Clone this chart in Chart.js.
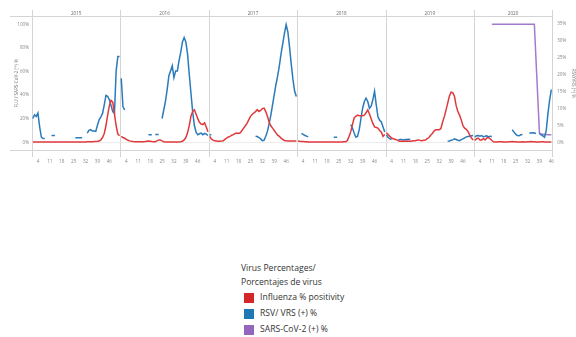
<!DOCTYPE html>
<html>
<head>
<meta charset="utf-8">
<script src="https://cdn.jsdelivr.net/npm/chart.js@4.4.1/dist/chart.umd.min.js"></script>
<style>
  body { margin: 0; background: #fff; font-family: "Open Sans", sans-serif; }
  #wrap { position: absolute; left: 0; top: 0; width: 576px; height: 165px; }
  #legend { position: absolute; left: 241px; top: 262px; font-size: 8.6px; color: #333; line-height: 13.5px; }
  #legend .row { display: flex; align-items: center; height: 16px; }
  #legend .sw { width: 10px; height: 10px; margin: 0 6px 0 3px; }
</style>
</head>
<body>
<div id="wrap"><canvas id="chart" width="576" height="165"></canvas></div>
<div id="legend"></div>
<script>
const years = ['2015', '2016', '2017', '2018', '2019', '2020'];
const weekTicks = [4, 11, 18, 25, 32, 39, 46];

// Influenza % positivity, weekly
const flu2015 = [0.3,0.3,0.3,0.3,0.3,0.3,0.3,0.3,0.3,0.3, 0.3,0.3,0.3,0.3,0.3,0.3,0.3,0.3,0.3,0.3,
  0.3,0.3,0.3,0.3,0.3,0.3,0.3,0.3,0.3,0.3, 0.3,0.3,0.4,0.4,0.5,0.5,0.6,0.7,0.8,1.0,
  2.0,4.0,7.5,14,23,31,35.5,34,24,14, 7,5.5];
const flu2016 = [5,4,3.4,2.5,1.7,1.2,0.8,0.6,0.5,0.5, 0.4,0.4,0.4,0.5,0.6,0.8,1.0,0.9,0.6,0.4,
  0.5,1.2,2.0,2.0,1.2,0.5,0.3,0.3,0.3,0.3, 0.3,0.3,0.3,0.3,0.3,0.4,0.8,2.0,4.0,8.0,
  14,22,26,27.5,24,20,17,15.5,15,16.5, 13,9];
const flu2017 = [5,2.8,1.8,1.2,1.0,0.8,0.8,1.0,1.3,2.5, 3.6,4.5,5.0,6.0,6.5,7.5,7.8,7.5,8.0,10,
  12,14,16,19,22,23.5,24.8,26,27.6,26, 27,28.5,29,26,22,17,14,12,10,8,
  6,5,3.5,2.5,1.5,1.2,1.0,1.0,1.0,1.0, 1.0,1.0];
const flu2018 = [1.0,0.8,0.7,0.6,0.5,0.4,0.3,0.3,0.3,0.3, 0.3,0.3,0.3,0.3,0.3,0.3,0.3,0.3,0.3,0.3,
  0.3,0.3,0.3,0.3,0.3,0.3,0.3,0.4,0.5,1.5, 5,9,15,20.6,22,23,22.5,22.5,22.5,23,
  25,27.5,24,20,16,13,12.5,12,10,8.5, 5,6.5];
const flu2019 = [8,6.5,5,3.6,3,2.5,2,1.3,0.8,0.8, 0.8,0.8,1.0,0.8,0.8,1.0,1.2,1.3,1.8,2.0,
  1.5,1.3,1.8,2.0,3.0,4.0,6.0,7.5,9.5,10.7, 10.7,10.7,11.5,17,21.5,27,33,39,42.5,42,
  39,31,26,23,19,14,12,11,9,6, 3.6,1.8];
const flu2020 = [1.5,3,3.6,2,2,3,2,3.6,4,3, 1.5,0.4,0.3,0.3,0.4,0.5,0.4,0.3,0.3,0.3,
  0.4,0.5,0.6,0.5,0.4,0.3,0.3,0.3,0.4,0.3, 0.3,0.4,0.5,0.6,0.5,0.4,0.3,0.3,0.3,0.4,
  0.4,0.3,0.3,0.3,0.2,0.2];

// RSV / VRS (+) %, weekly (right axis)
const rsv2015 = [7,8.1,7.6,8.6,4.5,1.5,1.1,1.1,null,null, null,2,2,2,null,null,null,null,null,null,
  null,null,null,null,null,1.3,1.3,1.3,1.3,1.3, null,null,2.7,3.5,3.7,3.3,3.3,3.2,5,6.6,
  7.5,8.5,11,13.8,13.5,12.5,10.8,9,8.5,21, 25.2,25.2];
const rsv2016 = [18.8,10.5,9.5,null,null,null,null,null,null,null, null,null,null,null,null,null,2.2,2.2,2.2,null,
  2.3,2.3,2.3,null,7,9.5,12,15.5,19.5,21, 22.5,19,21,21,24,26.5,29.5,30.8,29.5,26,
  20,14.5,9,5,3,2.2,2.5,2.7,2.2,2.6, 2.4,2.0];
const rsv2017 = [2.3,2.1,null,null,null,null,null,null,null,null, null,null,null,null,null,null,null,null,null,null,
  null,null,null,null,null,null,null,1.8,1.7,1.4, 1.0,0.5,0.6,1.8,3.2,5.5,8,11,14,17,
  19.5,22.5,26,29,32,34.6,32.5,28,23,18.5, 15,13.5];
const rsv2018 = [7.1,null,2.6,2.3,2.0,1.8,1.6,null,null,null, null,null,null,null,null,null,null,null,null,null,
  null,1.5,1.5,1.5,null,null,null,null,null,null, null,5.2,4.2,2.7,1.5,1.8,3.7,7,10.1,12,
  13,12,10,10.6,12.5,15,11,7.5,6.5,6, 4.5,3];
const rsv2019 = [2.2,1.4,1.0,0.8,null,null,null,0.7,0.8,0.8, 0.7,0.8,0.8,0.9,0.8,null,null,null,null,null,
  null,null,null,null,null,null,null,null,null,null, null,null,null,null,null,null,0.3,0.4,0.6,0.7,
  1.0,0.8,0.6,0.5,0.8,1.0,1.3,1.6,1.7,1.8, 1.9,2.0];
const rsv2020 = [1.6,1.9,2.0,1.8,2.0,1.6,1.8,1.9,1.6,1.8, 1.7,null,null,null,null,null,null,null,null,null,
  null,null,3.7,3.0,2.4,2.0,1.9,2.2,2.3,null, null,null,2.7,2.7,2.8,2.7,2.6,null,2.6,2.2,
  1.9,1.5,3.5,8.5,12.5,15.5];

// SARS-CoV-2 (+) %, weekly 2020 only
const sars2020 = [null,null,null,null,null,null,null,null,null,null,
  100,100,100,100,100,100,100,100,100,100, 100,100,100,100,100,100,100,100,100,100,
  100,100,100,100,100,100, null,null, 7.8,7.0,6.8,6.6,6.5,6.4,6.3,6.3];

const fluByYear = [flu2015, flu2016, flu2017, flu2018, flu2019, flu2020];
const rsvByYear = [rsv2015, rsv2016, rsv2017, rsv2018, rsv2019, rsv2020];

const offsets = [];
let total = 0;
fluByYear.forEach(a => { offsets.push(total); total += a.length; });

function toPoints(arr, yearIdx, pts) {
  arr.forEach((v, k) => pts.push({x: offsets[yearIdx] + k + 0.5, y: v}));
  pts.push({x: offsets[yearIdx] + arr.length, y: null}); // panes are not joined
  return pts;
}

let fluPts = [], rsvPts = [];
fluByYear.forEach((a, i) => toPoints(a, i, fluPts));
rsvByYear.forEach((a, i) => toPoints(a, i, rsvPts));
let sarsPts = toPoints(sars2020, 5, []);

const tickValues = [];
years.forEach((y, i) => weekTicks.forEach(w => {
  if (w <= fluByYear[i].length) tickValues.push(offsets[i] + w - 0.5);
}));

const panelPlugin = {
  id: 'panels',
  beforeDatasetsDraw(chart) {
    const ctx = chart.ctx, x = chart.scales.x, y = chart.scales.y, a = chart.chartArea;
    ctx.save();
    ctx.strokeStyle = '#d4d4d4';
    ctx.lineWidth = 1;
    // year dividers and outer edges
    offsets.concat([total]).forEach(o => {
      const px = Math.round(x.getPixelForValue(o)) + 0.5;
      ctx.beginPath(); ctx.moveTo(px, 10); ctx.lineTo(px, 157); ctx.stroke();
    });
    // header separator and bottom line
    [16.5, Math.round(a.bottom) + 0.5].forEach(py => {
      ctx.beginPath(); ctx.moveTo(10, py); ctx.lineTo(a.right, py); ctx.stroke();
    });
    // zero line
    ctx.strokeStyle = '#ececec';
    const zy = Math.round(y.getPixelForValue(0)) + 0.5;
    ctx.beginPath(); ctx.moveTo(a.left, zy); ctx.lineTo(a.right, zy); ctx.stroke();
    // year headers
    ctx.fillStyle = '#666';
    ctx.font = '4.6px "Open Sans", sans-serif';
    ctx.textAlign = 'center';
    ctx.textBaseline = 'middle';
    years.forEach((yr, i) => {
      const c = x.getPixelForValue(offsets[i] + fluByYear[i].length / 2);
      ctx.fillText(yr, c, 14);
    });
    ctx.restore();
  }
};

const tickFont = {family: '"Open Sans", sans-serif', size: 4.6};

const chart = new Chart(document.getElementById('chart').getContext('2d'), {
  type: 'line',
  data: {
    datasets: [
      {label: 'Influenza % positivity', data: fluPts, yAxisID: 'y', borderColor: '#e0393c', backgroundColor: '#d62728', legendColor: '#d62728'},
      {label: 'RSV/ VRS (+) %', data: rsvPts, yAxisID: 'y1', borderColor: '#2b7bba', backgroundColor: '#1f77b4', legendColor: '#1f77b4'},
      {label: 'SARS-CoV-2 (+) %', data: sarsPts, yAxisID: 'y', borderColor: '#a47acb', backgroundColor: '#9467bd', legendColor: '#9467bd', spanGaps: true}
    ]
  },
  options: {
    responsive: false,
    animation: false,
    layout: {padding: {top: 17, left: 0, right: 0, bottom: 0}},
    elements: {
      point: {radius: 0},
      line: {borderWidth: 1.5, tension: 0}
    },
    plugins: {legend: {display: false}, tooltip: {enabled: false}},
    scales: {
      x: {
        type: 'linear', min: 0, max: total,
        grid: {display: false}, border: {display: false},
        afterBuildTicks: s => { s.ticks = tickValues.map(v => ({value: v})); },
        afterFit: s => { s.height = 15.3; },
        ticks: {autoSkip: false, maxRotation: 0, padding: 1, color: '#888', font: tickFont,
          callback: (v, i) => weekTicks[i % weekTicks.length]}
      },
      y: {
        position: 'left', min: -6.3, max: 106.2,
        grid: {display: false, drawTicks: false}, border: {display: false},
        afterBuildTicks: s => { s.ticks = [0, 20, 40, 60, 80, 100].map(v => ({value: v})); },
        afterFit: s => { s.width = 32; },
        ticks: {padding: 3, color: '#888', font: tickFont, callback: v => v + '%'},
        title: {display: true, text: 'FLU / SARS-CoV-2 (+) %', color: '#777', font: tickFont, padding: {top: 14, bottom: 0}}
      },
      y1: {
        position: 'right', min: -2.18, max: 36.85,
        grid: {display: false, drawTicks: false}, border: {display: false},
        afterBuildTicks: s => { s.ticks = [0, 5, 10, 15, 20, 25, 30, 35].map(v => ({value: v})); },
        afterFit: s => { s.width = 23.8; },
        ticks: {padding: 5, color: '#888', font: tickFont, callback: v => v + '%'},
        title: {display: true, text: 'RSV/VRS (+) %', color: '#777', font: tickFont, padding: {top: 0, bottom: 5}}
      }
    }
  },
  plugins: [panelPlugin]
});

// legend built from the datasets
const legend = document.getElementById('legend');
legend.innerHTML = '<div>Virus Percentages/</div><div style="margin-bottom:1px">Porcentajes de virus</div>' +
  chart.data.datasets.map(d =>
    '<div class="row"><span class="sw" style="background:' + d.legendColor + '"></span>' + d.label + '</div>'
  ).join('');
</script>
</body>
</html>
